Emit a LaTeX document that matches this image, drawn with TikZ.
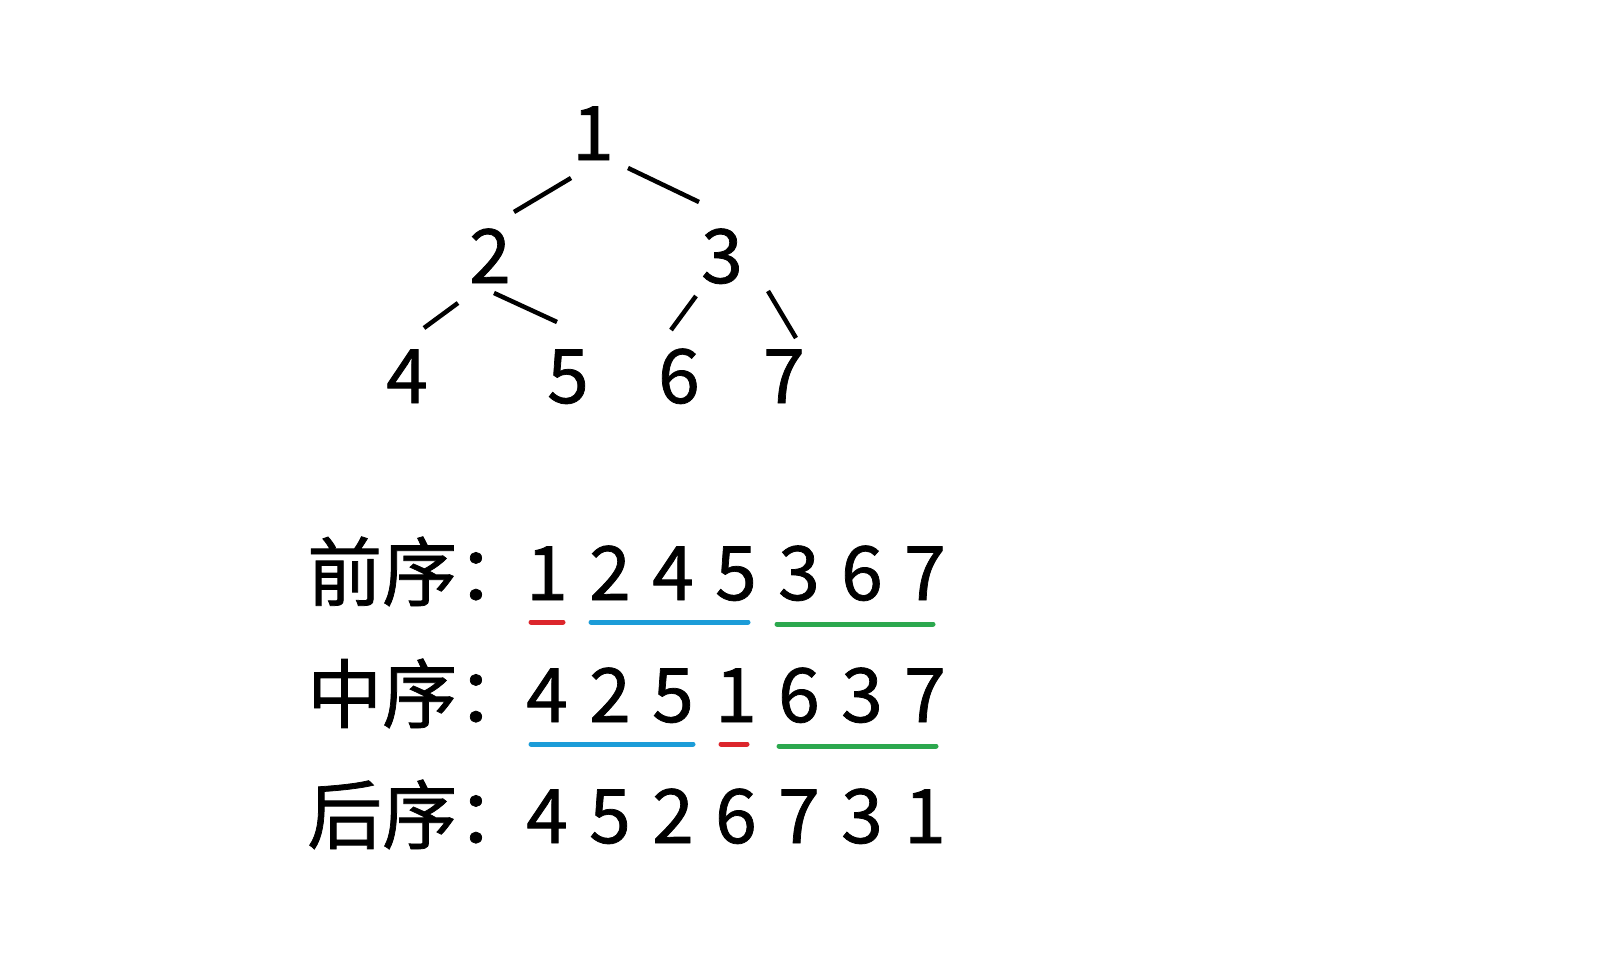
\documentclass[tikz,border=0pt]{standalone}
\usepackage{fontspec}
\setmainfont{Noto Sans CJK SC}[FakeBold=1]
\usepackage{tikz}
\usetikzlibrary{calc}
\definecolor{lred}{RGB}{220,38,44}
\definecolor{lblue}{RGB}{28,156,216}
\definecolor{lgreen}{RGB}{44,168,78}
\tikzset{
    num/.style={inner sep=0pt, anchor=base, font=\fontsize{75}{90}\selectfont},
    seq/.style={inner sep=0pt, anchor=base west, font=\fontsize{75}{90}\selectfont},
    branch/.style={line width=4.5pt},
    uline/.style={line width=5pt, line cap=round}
}
\begin{document}
\begin{tikzpicture}[x=1pt,y=-1pt]
    \useasboundingbox (0,0) rectangle (1599,977);
        % tree
        \node[num] (n1) at (593,160) {1};
        \node[num] (n2) at (490,283) {2};
        \node[num] (n3) at (722,283) {3};
        \node[num] (n4) at (407,403) {4};
        \node[num] (n5) at (568,403) {5};
        \node[num] (n6) at (679,403) {6};
        \node[num] (n7) at (784,403) {7};
        \draw[branch] ([shift={(-22,18)}]n1.base) -- ([shift={(24,-71)}]n2.base);
        \draw[branch] ([shift={(35,8)}]n1.base) -- ([shift={(-23,-81)}]n3.base);
        \draw[branch] ([shift={(-32,20)}]n2.base) -- ([shift={(17,-75)}]n4.base);
        \draw[branch] ([shift={(4,10)}]n2.base) -- ([shift={(-11,-81)}]n5.base);
        \draw[branch] ([shift={(-26,13)}]n3.base) -- ([shift={(-8,-73)}]n6.base);
        \draw[branch] ([shift={(46,8)}]n3.base) -- ([shift={(12,-65)}]n7.base);
        % sequences
        \node[seq] (pre) at (307,600) {前序：};
        \node[seq] (in) at (307,722) {中序：};
        \node[seq] (post) at (307,843) {后序：};
        \foreach \d [count=\i] in {1,2,4,5,3,6,7}
            \node[num] (pre\i) at ({484+63*\i},600) {\d};
        \foreach \d [count=\i] in {4,2,5,1,6,3,7}
            \node[num] (in\i) at ({484+63*\i},722) {\d};
        \foreach \d [count=\i] in {4,5,2,6,7,3,1}
            \node[num] (post\i) at ({484+63*\i},843) {\d};
        % underlines
        \draw[uline,lred] ([shift={(-16,22)}]pre1.base) -- ([shift={(16,22)}]pre1.base);
        \draw[uline,lblue] ([shift={(-19,22)}]pre2.base) -- ([shift={(12,22)}]pre4.base);
        \draw[uline,lgreen] ([shift={(-22,24)}]pre5.base) -- ([shift={(8,24)}]pre7.base);
        \draw[uline,lblue] ([shift={(-16,22)}]in1.base) -- ([shift={(20,22)}]in3.base);
        \draw[uline,lred] ([shift={(-15,22)}]in4.base) -- ([shift={(11,22)}]in4.base);
        \draw[uline,lgreen] ([shift={(-20,24)}]in5.base) -- ([shift={(11,24)}]in7.base);
\end{tikzpicture}
\end{document}
